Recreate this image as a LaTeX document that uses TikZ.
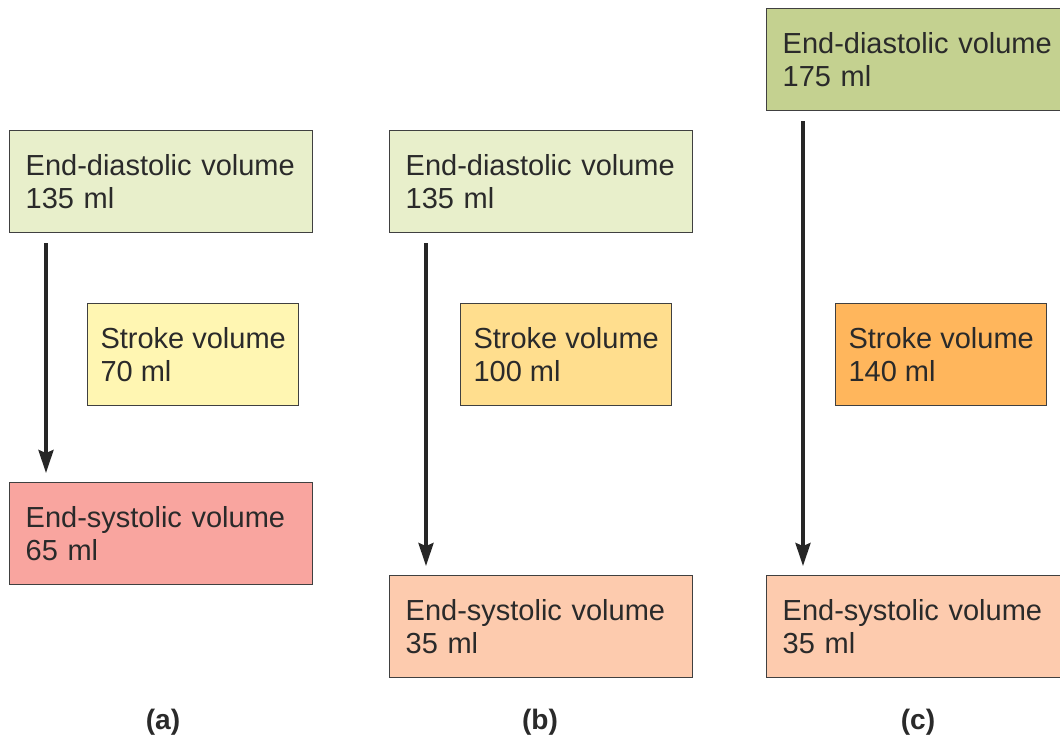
\documentclass[tikz,border=0pt]{standalone}
\usepackage{fontspec}
\setmainfont{Liberation Sans}
\usetikzlibrary{arrows.meta}
\definecolor{txt}{HTML}{2A2A2A}
\definecolor{edvl}{HTML}{E8EFCB}
\definecolor{edvd}{HTML}{C4D190}
\definecolor{sva}{HTML}{FFF6B2}
\definecolor{svb}{HTML}{FFDE8E}
\definecolor{svc}{HTML}{FFB65C}
\definecolor{esva}{HTML}{F9A59F}
\definecolor{esvb}{HTML}{FDCBAE}
\tikzset{
  boxbase/.style={draw=black!75, line width=0.8pt, anchor=north west, align=left,
    text=txt, font=\fontsize{16.5}{18.5}\selectfont, minimum height=2.04cm},
  bigbox/.style={boxbase, inner xsep=0.32cm, inner ysep=0pt, text width=5.42cm},
  svbox/.style={boxbase, inner sep=0pt, minimum width=4.22cm},
  arr/.style={draw=black!85, line width=1.9pt,
    -{Stealth[length=0.46cm, width=0.3cm, inset=0.06cm]}},
  lab/.style={font=\bfseries\fontsize{16}{18}\selectfont, text=txt}
}
\begin{document}
\begin{tikzpicture}[x=0.02cm, y=-0.02cm]
\useasboundingbox (0,0) rectangle (1060,742);
% (a)
\node[bigbox, fill=edvl] (a1) at (9,130) {End-diastolic volume\\135 ml};
\node[svbox, fill=sva] (a2) at (87,303) {Stroke volume\\70 ml\phantom{0}};
\node[bigbox, fill=esva] (a3) at (9,482) {End-systolic volume\\65 ml};
\draw[arr] ([xshift=0.74cm, yshift=-0.2cm]a1.south west) -- ([xshift=0.74cm, yshift=0.18cm]a3.north west);
\node[lab] (la) at (163,722) {(a)};
% (b)
\node[bigbox, fill=edvl] (b1) at (389,130) {End-diastolic volume\\135 ml};
\node[svbox, fill=svb] (b2) at (460,303) {Stroke volume\\100 ml};
\node[bigbox, fill=esvb] (b3) at (389,575) {End-systolic volume\\35 ml};
\draw[arr] ([xshift=0.74cm, yshift=-0.2cm]b1.south west) -- ([xshift=0.74cm, yshift=0.18cm]b3.north west);
\node[lab] (lb) at (540,722) {(b)};
% (c)
\node[bigbox, fill=edvd] (c1) at (766,8) {End-diastolic volume\\175 ml};
\node[svbox, fill=svc] (c2) at (835,303) {Stroke volume\\140 ml};
\node[bigbox, fill=esvb] (c3) at (766,575) {End-systolic volume\\35 ml};
\draw[arr] ([xshift=0.74cm, yshift=-0.2cm]c1.south west) -- ([xshift=0.74cm, yshift=0.18cm]c3.north west);
\node[lab] (lc) at (918,722) {(c)};
\end{tikzpicture}
\end{document}
